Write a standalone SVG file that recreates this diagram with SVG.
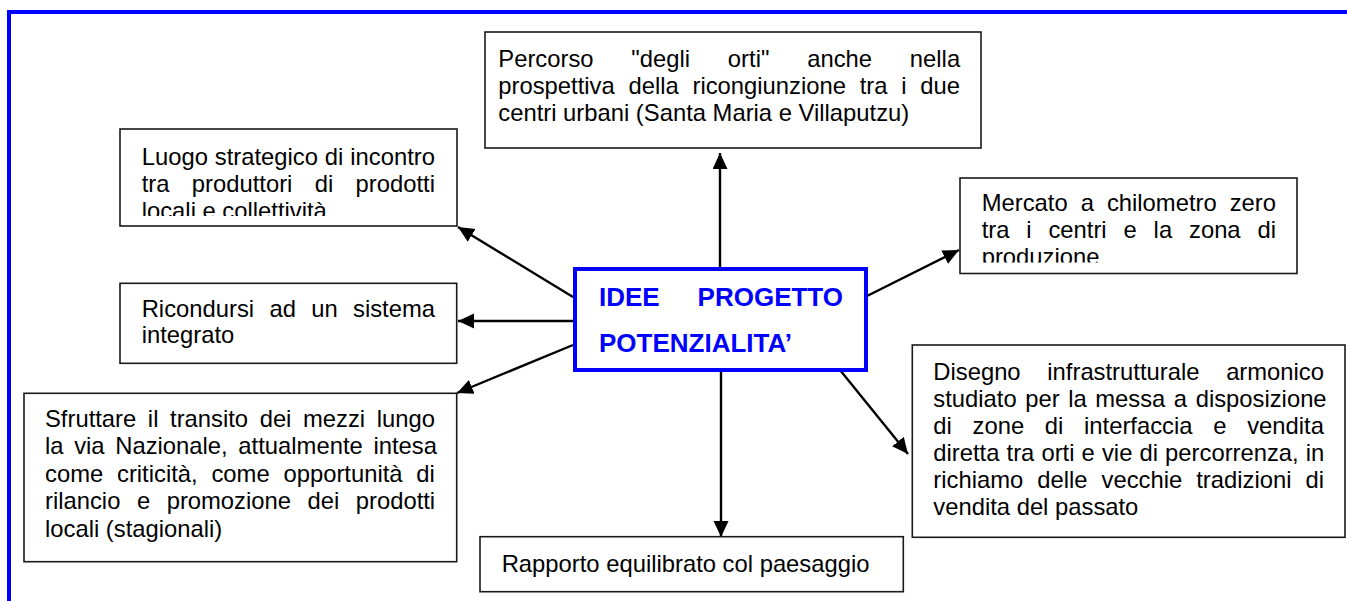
<svg xmlns="http://www.w3.org/2000/svg" width="1347" height="601" viewBox="0 0 1347 601">
<style>
.box{fill:#fff;stroke:#1a1a1a;stroke-width:1.6}
.t{font-family:"Liberation Sans",Arial,sans-serif;font-size:23.8px;fill:#000}
.c{font-family:"Liberation Sans",Arial,sans-serif;font-size:26px;font-weight:bold;fill:#0000ff}
.conn line{stroke:#000;stroke-width:2.4;marker-end:url(#ah)}
</style>
<defs>
<marker id="ah" markerUnits="userSpaceOnUse" markerWidth="17" markerHeight="16" refX="16" refY="7.5" orient="auto">
<path d="M0,0 L16,7.5 L0,15 z" fill="#000"/>
</marker>
<clipPath id="clip1"><rect x="120" y="129" width="337" height="87"/></clipPath>
<clipPath id="clip3"><rect x="960" y="178" width="337" height="84.5"/></clipPath>
</defs>
<rect x="9" y="12" width="1400" height="700" fill="none" stroke="#0000ff" stroke-width="4"/>

<g id="connectors" class="conn">
<line x1="573" y1="297" x2="458" y2="227"/>
<line x1="575" y1="321" x2="458" y2="321"/>
<line x1="573" y1="345" x2="457" y2="393"/>
<line x1="720" y1="269" x2="720" y2="153"/>
<line x1="865" y1="297" x2="959" y2="250"/>
<line x1="840" y1="370" x2="908" y2="454"/>
<line x1="721" y1="370" x2="721" y2="537"/>
</g>

<g id="n-luogo">
<rect class="box" x="120" y="129" width="337" height="97"/>
<g clip-path="url(#clip1)">
<text class="t" x="141.7" y="164.5" word-spacing="0.3">Luogo strategico di incontro</text>
<text class="t" x="141.7" y="191.5" word-spacing="15.75">tra produttori di prodotti</text>
<text class="t" x="141.7" y="218.5">locali e collettività</text>
</g>
</g>

<g id="n-percorso">
<rect class="box" x="485" y="32" width="496" height="116"/>
<text class="t" x="498.3" y="66.7" word-spacing="31.2">Percorso "degli orti" anche nella</text>
<text class="t" x="498.3" y="93.7" word-spacing="7.14">prospettiva della ricongiunzione tra i due</text>
<text class="t" x="498.3" y="120.7">centri urbani (Santa Maria e Villaputzu)</text>
</g>

<g id="n-mercato">
<rect class="box" x="960" y="178" width="337" height="95.5"/>
<g clip-path="url(#clip3)">
<text class="t" x="981.7" y="211" word-spacing="6.4">Mercato a chilometro zero</text>
<text class="t" x="981.7" y="238" word-spacing="10.25">tra i centri e la zona di</text>
<text class="t" x="981.7" y="265">produzione</text>
</g>
</g>

<g id="n-ricondursi">
<rect class="box" x="120" y="283.3" width="336.7" height="80"/>
<text class="t" x="141.7" y="316.7" word-spacing="8.7">Ricondursi ad un sistema</text>
<text class="t" x="141.7" y="343.4">integrato</text>
</g>

<g id="n-sfruttare">
<rect class="box" x="24" y="393.3" width="432.7" height="168.4"/>
<text class="t" x="45" y="426.7" word-spacing="4.98">Sfruttare il transito dei mezzi lungo</text>
<text class="t" x="45" y="454.3" word-spacing="4.05">la via Nazionale, attualmente intesa</text>
<text class="t" x="45" y="482" word-spacing="7.2">come criticità, come opportunità di</text>
<text class="t" x="45" y="509.3" word-spacing="9.9">rilancio e promozione dei prodotti</text>
<text class="t" x="45" y="536.7">locali (stagionali)</text>
</g>

<g id="n-disegno">
<rect class="box" x="912.3" y="345" width="432.7" height="192.3"/>
<text class="t" x="933.3" y="380" word-spacing="20.1">Disegno infrastrutturale armonico</text>
<text class="t" x="933.3" y="407.3" word-spacing="1.94">studiato per la messa a disposizione</text>
<text class="t" x="933.3" y="434.3" word-spacing="14.1">di zone di interfaccia e vendita</text>
<text class="t" x="933.3" y="461" word-spacing="0.5">diretta tra orti e vie di percorrenza, in</text>
<text class="t" x="933.3" y="488.3" word-spacing="7.4">richiamo delle vecchie tradizioni di</text>
<text class="t" x="933.3" y="515">vendita del passato</text>
</g>

<g id="n-rapporto">
<rect class="box" x="480" y="536.7" width="423.3" height="55"/>
<text class="t" x="501.7" y="571.7">Rapporto equilibrato col paesaggio</text>
</g>

<g id="n-center">
<rect x="575" y="269" width="291" height="101" fill="#fff" stroke="#0000ff" stroke-width="4"/>
<text class="c" x="599" y="306">IDEE</text>
<text class="c" x="843" y="306" text-anchor="end">PROGETTO</text>
<text class="c" x="599" y="351.7">POTENZIALITA’</text>
</g>
</svg>
